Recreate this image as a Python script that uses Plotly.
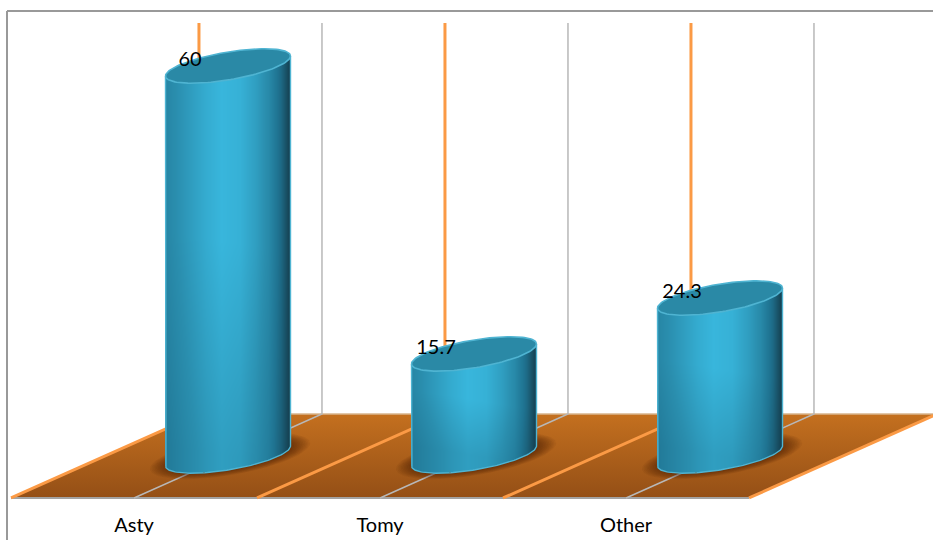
import numpy as np
import plotly.graph_objects as go

# Chart data
categories = ["Asty", "Tomy", "Other"]
values = [60, 15.7, 24.3]

# Page and axis scale
WIDTH, HEIGHT = 933, 540
BOTTOM = 29                      # strip under the plot for the category labels
ZERO_PX = 456                    # pixel row of the value axis zero
X_PER_PX = 1 / 246               # category units per pixel
Y_PER_PX = 1 / 6.5               # value units per pixel
X_RANGE = [-228 * X_PER_PX, (WIDTH - 228) * X_PER_PX]
Y_RANGE = [-(HEIGHT - BOTTOM - ZERO_PX) * Y_PER_PX, ZERO_PX * Y_PER_PX]

# Pseudo-3D geometry
SHEAR = 0.382                    # horizontal drift of the floor lines, front to back
DEPTH = 6.46                     # half depth of the floor in value units
WALL_TOP = 66.6
RADIUS = 62.5 * X_PER_PX
TILT = 10 * Y_PER_PX             # rise of the ellipse at its right end
MINOR = 14 * Y_PER_PX

# Colours
ORANGE = "#FB9A45"
GREY = "#B8B8B8"
FRAME = "#999999"
RIM = "#4FB4D2"
CAP = "#2A89A6"
FONT = "Lato"
SHADE = [[0, "#12313E"], [0.45, "#1F7391"], [0.7, "#2A8EAE"], [1, "#38B6DC"]]


def ellipse(cx, cy, rx=RADIUS, ry=MINOR, tilt=TILT, n=120):
    t = np.linspace(0, 2 * np.pi, n)
    return cx + rx * np.cos(t), cy + tilt * np.cos(t) + ry * np.sin(t)


def side_surface(cx, value):
    """Shaded side wall of one cylinder, blank outside its outline."""
    xs = cx + np.arange(-RADIUS, RADIUS + X_PER_PX, X_PER_PX)
    ys = np.arange(-3.2, value + 3, Y_PER_PX)
    u = np.clip((xs - cx) / RADIUS, -1, 1)
    profile = np.interp(u, [-1, -0.7, -0.35, -0.1, 0.2, 0.45, 0.65, 0.85, 1],
                        [0.62, 0.76, 0.92, 1.0, 0.96, 0.82, 0.66, 0.38, 0.08])
    grid_u, grid_y = np.meshgrid(u, ys)
    height = np.clip((grid_y + TILT * grid_u) / value, 0, 1)
    depth_shade = np.interp(height, [0, 0.55, 1], [0.82, 1.0, 1.0])
    z = np.round(np.interp(grid_u, u, profile) * depth_shade, 3)
    low = TILT * grid_u - MINOR * np.sqrt(1 - grid_u ** 2)
    high = value + TILT * grid_u
    z[(grid_y < low) | (grid_y > high)] = np.nan
    return xs, ys, z


def line(x, y, color, width, axes=("x", "y")):
    return go.Scatter(x=x, y=y, mode="lines", xaxis=axes[0], yaxis=axes[1],
                      line=dict(color=color, width=width),
                      hoverinfo="skip", showlegend=False)


fig = go.Figure()
n = len(categories)
positions = np.arange(n)

# Floor
floor_x = [-0.5 - SHEAR, n - 0.5 - SHEAR, n - 0.5 + SHEAR, -0.5 + SHEAR, -0.5 - SHEAR]
floor_y = [-DEPTH, -DEPTH, DEPTH, DEPTH, -DEPTH]
fig.add_trace(go.Scatter(
    x=floor_x, y=floor_y, mode="lines", fill="toself", line=dict(width=0),
    fillgradient=dict(type="vertical",
                      colorscale=[[0, "#944F16"], [1, "#C4701F"]]),
    hoverinfo="skip", showlegend=False))
fig.add_trace(line(floor_x[:2], floor_y[:2], "#A3A3A3", 2))
fig.add_trace(line(floor_x[2:4], floor_y[2:4], "#D9B48C", 1.5))

# Wall and floor rules behind the cylinders
for p in positions:
    fig.add_trace(line([p - SHEAR, p + SHEAR, p + SHEAR],
                       [-DEPTH, DEPTH, WALL_TOP], GREY, 1.5))
for b in np.arange(n + 1) - 0.5:
    if b < n - 0.5:
        fig.add_trace(line([b - SHEAR, b + SHEAR, b + SHEAR],
                           [-DEPTH, DEPTH, WALL_TOP], ORANGE, 3))
    else:
        fig.add_trace(line([b - SHEAR, b + SHEAR], [-DEPTH, DEPTH], ORANGE, 3))

# Soft contact shadows on the floor
for p in positions:
    for grow in np.linspace(1.28, 1.0, 12):
        sx, sy = ellipse(p + 2 * X_PER_PX, 0.0, RADIUS * grow, MINOR * grow ** 1.3,
                         TILT * grow)
        fig.add_trace(go.Scatter(
            x=sx, y=sy, mode="lines", fill="toself", line=dict(width=0),
            fillcolor="rgba(50,24,4,0.055)", hoverinfo="skip", showlegend=False))

# Cylinders, on an overlaid axis pair so they cover the rules
top_axes = ("x2", "y2")
for p, v in zip(positions, values):
    xs, ys, z = side_surface(p, v)
    fig.add_trace(go.Heatmap(
        x=xs, y=ys, z=z, xaxis="x2", yaxis="y2", zmin=0, zmax=1,
        colorscale=SHADE, showscale=False, hoverinfo="skip"))
for p, v in zip(positions, values):
    t = np.linspace(np.pi, 2 * np.pi, 80)
    ex = p + RADIUS * np.cos(t)
    ey = TILT * np.cos(t) + MINOR * np.sin(t)
    fig.add_trace(line(np.r_[ex[0], ex, ex[-1]], np.r_[v - TILT, ey, v + TILT], RIM, 1.4, top_axes))
    cx, cy = ellipse(p, v)
    fig.add_trace(go.Scatter(
        x=cx, y=cy, mode="lines", fill="toself", fillcolor=CAP, xaxis="x2", yaxis="y2",
        line=dict(color=RIM, width=1.6), hoverinfo="skip", showlegend=False))

# Value labels
fig.add_trace(go.Scatter(
    x=positions - 38 * X_PER_PX, y=np.array(values) + 0.8, xaxis="x2", yaxis="y2",
    mode="text", text=[str(v) for v in values], textposition="middle center",
    textfont=dict(family=FONT, size=20, color="black"),
    hoverinfo="skip", showlegend=False))

axis_style = dict(showgrid=False, zeroline=False, showline=False)
fig.update_layout(
    width=WIDTH, height=HEIGHT, autosize=False,
    margin=dict(l=0, r=0, t=0, b=BOTTOM),
    paper_bgcolor="white", plot_bgcolor="white", showlegend=False,
    font=dict(family=FONT, color="black"),
    xaxis=dict(range=X_RANGE, tickmode="array", tickvals=positions - SHEAR,
               ticktext=categories, ticks="", tickfont=dict(family=FONT, size=20, color="black"),
               fixedrange=True, **axis_style),
    yaxis=dict(range=Y_RANGE, showticklabels=False, ticks="", fixedrange=True, **axis_style),
    xaxis2=dict(range=X_RANGE, overlaying="x", visible=False, fixedrange=True, **axis_style),
    yaxis2=dict(range=Y_RANGE, overlaying="y", visible=False, fixedrange=True, **axis_style),
    shapes=[
        dict(type="line", xref="paper", yref="paper", x0=7 / WIDTH, x1=7 / WIDTH,
             y0=-BOTTOM / (HEIGHT - BOTTOM), y1=(HEIGHT - BOTTOM - 11) / (HEIGHT - BOTTOM),
             line=dict(color=FRAME, width=2), layer="below"),
        dict(type="line", xref="paper", yref="paper", x0=7 / WIDTH, x1=1,
             y0=(HEIGHT - BOTTOM - 11) / (HEIGHT - BOTTOM), y1=(HEIGHT - BOTTOM - 11) / (HEIGHT - BOTTOM),
             line=dict(color=FRAME, width=2), layer="below"),
    ],
)

fig.write_html("out.html")
